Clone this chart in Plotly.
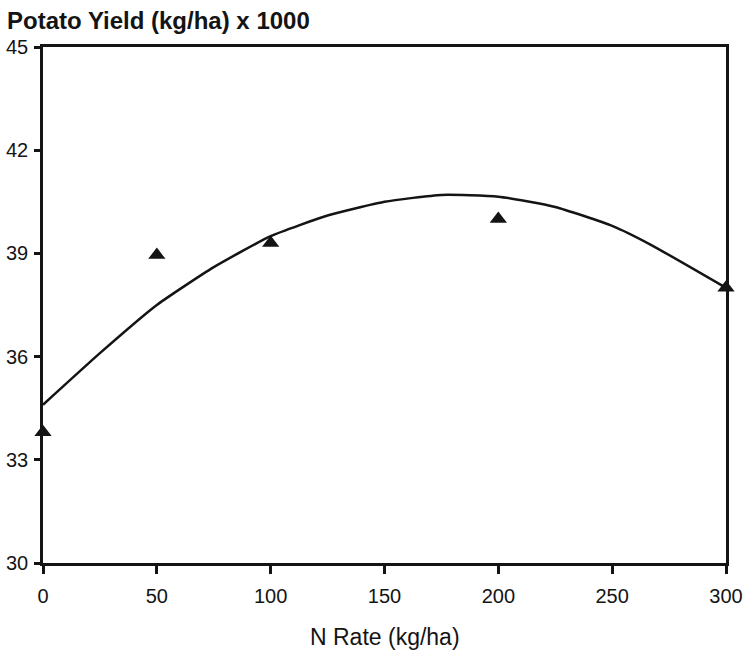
import plotly.graph_objects as go

# Observed points (triangles)
n_rate = [0, 50, 100, 200, 300]
yield_obs = [33.8, 38.95, 39.3, 40.0, 38.0]

# Fitted curve
curve_x = [0, 25, 50, 75, 100, 125, 150, 175, 200, 225, 250, 267, 300]
curve_y = [34.6, 36.1, 37.5, 38.6, 39.5, 40.1, 40.5, 40.7, 40.65, 40.35, 39.8, 39.25, 38.0]

x_ticks = [0, 50, 100, 150, 200, 250, 300]
y_ticks = [30, 33, 36, 39, 42, 45]

FONT = "Liberation Sans, Arial, sans-serif"
INK = "#141414"

fig = go.Figure()
fig.add_trace(go.Scatter(x=curve_x, y=curve_y, mode="lines",
                         line=dict(color=INK, width=2.5, shape="spline", smoothing=0.5),
                         showlegend=False, hoverinfo="skip", cliponaxis=False))
fig.add_trace(go.Scatter(x=n_rate, y=yield_obs, mode="markers",
                         marker=dict(symbol="triangle-up", size=15, color=INK),
                         showlegend=False, cliponaxis=False))

fig.update_layout(
    width=746, height=653,
    margin=dict(l=43, r=20, t=47, b=90, autoexpand=False),
    paper_bgcolor="white", plot_bgcolor="white",
    font=dict(family=FONT, size=20, color=INK),
    title=dict(text="<b>Potato Yield (kg/ha) x 1000</b>", x=7/746, xanchor="left",
               y=1 - 21/653, yanchor="middle", font=dict(family=FONT, size=24, color=INK)),
    xaxis=dict(range=[0, 300], tickvals=x_ticks, ticktext=[str(v) for v in x_ticks],
               automargin=False,
               showgrid=False, zeroline=False, showline=True, linecolor=INK, linewidth=2.5,
               mirror=True, ticks="outside", ticklen=8, tickwidth=2.5, tickcolor=INK,
               ticklabelstandoff=5),
    yaxis=dict(range=[30, 45], tickvals=y_ticks, ticktext=[str(v) for v in y_ticks],
               automargin=False,
               showgrid=False, zeroline=False, showline=True, linecolor=INK, linewidth=2.5,
               mirror=True, ticks="outside", ticklen=6, tickwidth=2.5, tickcolor=INK,
               ticklabelstandoff=2),
    annotations=[dict(text="N Rate (kg/ha)", xref="paper", yref="paper", x=0.5, y=-74/516,
                      xanchor="center", yanchor="middle", showarrow=False,
                      font=dict(family=FONT, size=23, color=INK))],
)

fig.write_html("out.html", config={"displayModeBar": False},
               post_script="document.body.style.margin='0';document.body.style.overflow='hidden';")
